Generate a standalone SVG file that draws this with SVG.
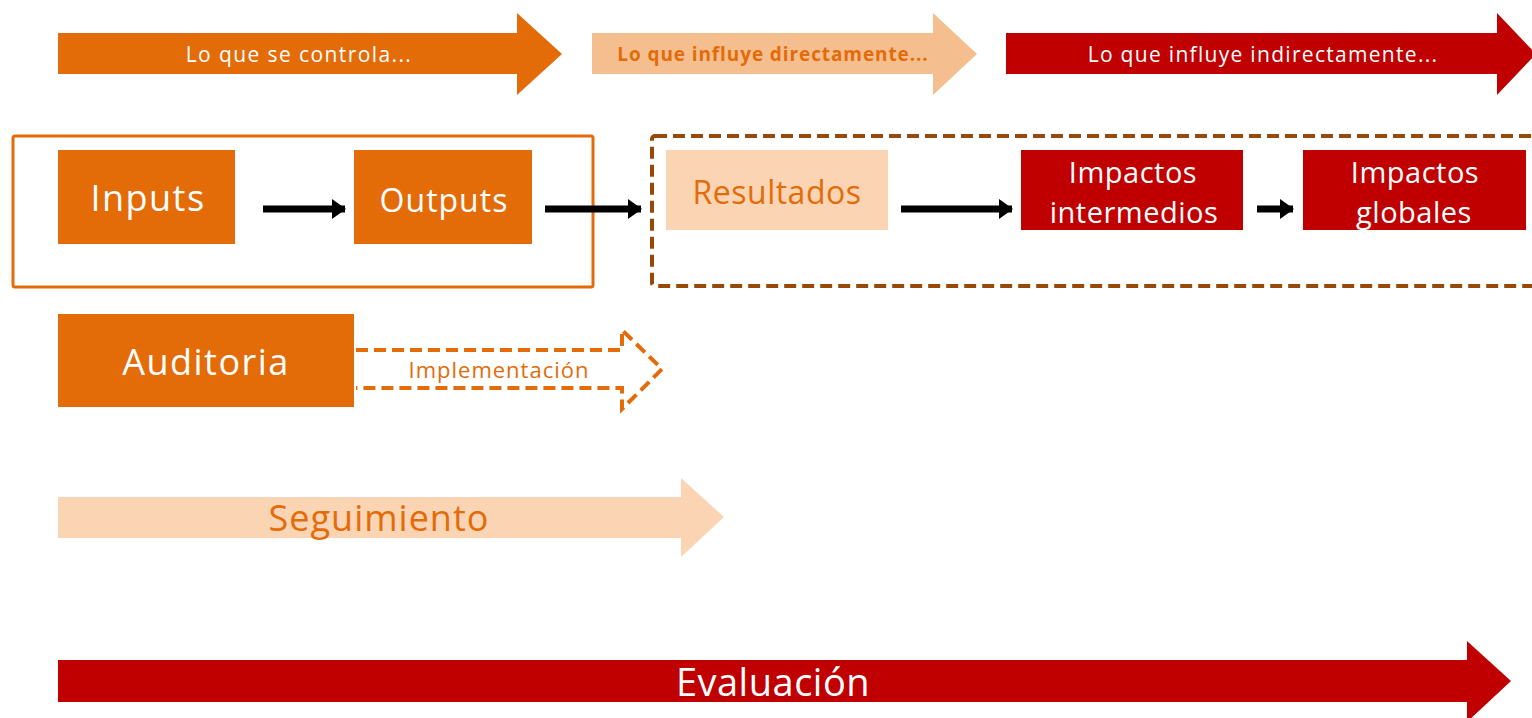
<svg xmlns="http://www.w3.org/2000/svg" width="1532" height="718" viewBox="0 0 1532 718">
<style>
text{font-family:"Open Sans","Liberation Sans",sans-serif;text-anchor:middle;dominant-baseline:central}
.w{fill:#ffffff}
.o{fill:#E36C09}
.orange{fill:#E36C09}
.peach{fill:#FBD4B4}
.peach2{fill:#F5BE8E}
.red{fill:#C00000}
.conn{stroke:#000;stroke-width:7;fill:none;marker-end:url(#ah)}
</style>
<defs>
<marker id="ah" markerUnits="userSpaceOnUse" markerWidth="14" markerHeight="20" refX="13" refY="10" orient="auto">
<path d="M0,0 L14,10 L0,20 Z" fill="#000"/>
</marker>
</defs>
<rect width="1532" height="718" fill="#fff"/>
<g id="arrow-controla">
<path class="orange" d="M58,33 H517 V13 L562,54 L517,95 V74 H58 Z"/>
<text class="w" x="299" y="54" font-size="21" letter-spacing="1.4">Lo que se controla...</text>
</g>
<g id="arrow-directo">
<path class="peach2" d="M592,33 H933 V13 L977,54 L933,95 V74 H592 Z"/>
<text class="o" x="773" y="54" font-size="19" font-weight="bold" letter-spacing="0.9">Lo que influye directamente...</text>
</g>
<g id="arrow-indirecto">
<path class="red" d="M1006,33 H1497 V13 L1536,54 L1497,95 V74 H1006 Z"/>
<text class="w" x="1263" y="54" font-size="21" letter-spacing="1.3">Lo que influye indirectamente...</text>
</g>
<g id="grupo-control">
<rect x="13" y="136" width="580" height="151" rx="2" fill="none" stroke="#E36C09" stroke-width="3"/>
</g>
<g id="grupo-influencia">
<rect x="652" y="136" width="900" height="150" rx="3" fill="none" stroke="#984807" stroke-width="4" stroke-dasharray="12,6"/>
</g>
<g id="inputs">
<rect class="orange" x="58" y="150" width="177" height="94"/>
<text class="w" x="148" y="197" font-size="36" letter-spacing="1.5">Inputs</text>
</g>
<g id="outputs">
<rect class="orange" x="354" y="150" width="178" height="94"/>
<text class="w" x="444" y="199" font-size="32" letter-spacing="1">Outputs</text>
</g>
<g id="resultados">
<rect class="peach" x="666" y="150" width="222" height="80"/>
<text class="o" x="777" y="191" font-size="32" letter-spacing="0.5">Resultados</text>
</g>
<g id="impactos-intermedios">
<rect class="red" x="1021" y="150" width="222" height="80"/>
<text class="w" x="1133" y="171" font-size="29" letter-spacing="0.5">Impactos</text>
<text class="w" x="1134" y="211" font-size="29" letter-spacing="0.5">intermedios</text>
</g>
<g id="impactos-globales">
<rect class="red" x="1303" y="150" width="223" height="80"/>
<text class="w" x="1415" y="171" font-size="29" letter-spacing="0.5">Impactos</text>
<text class="w" x="1414" y="211" font-size="29" letter-spacing="0.5">globales</text>
</g>
<g id="auditoria">
<rect class="orange" x="58" y="314" width="296" height="93"/>
<text class="w" x="206" y="361" font-size="36" letter-spacing="1.5">Auditoria</text>
</g>
<g id="implementacion">
<path d="M356,350 H622 V330 L662,369 L622,409 V388 H356" fill="none" stroke="#E36C09" stroke-width="4" stroke-dasharray="12,6"/>
<text class="o" x="499" y="369" font-size="22" letter-spacing="1">Implementación</text>
</g>
<g id="seguimiento">
<path class="peach" d="M58,497 H681 V478 L724,517 L681,557 V538 H58 Z"/>
<text class="o" x="379" y="517" font-size="36" letter-spacing="1">Seguimiento</text>
</g>
<g id="evaluacion">
<path class="red" d="M58,660 H1467 V641 L1511,681 L1467,722 V702 H58 Z"/>
<text class="w" x="773" y="681" font-size="38" letter-spacing="0.5">Evaluación</text>
</g>
<g id="connectors">
<line class="conn" x1="263" y1="209" x2="345" y2="209"/>
<line class="conn" x1="545" y1="209" x2="641" y2="209"/>
<line class="conn" x1="901" y1="209" x2="1012" y2="209"/>
<line class="conn" x1="1257" y1="209" x2="1293" y2="209"/>
</g>
</svg>
